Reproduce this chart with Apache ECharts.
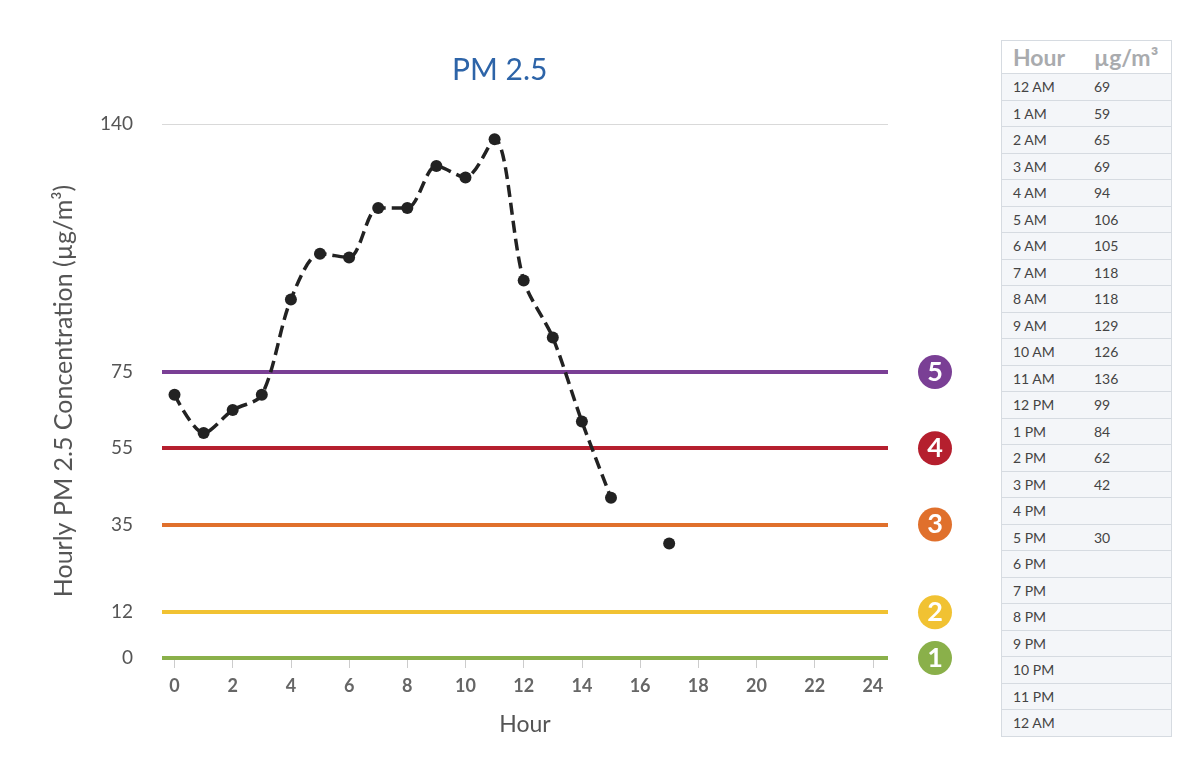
<!DOCTYPE html>
<html>
<head>
    <meta charset="utf-8">
    <script src="https://cdn.jsdelivr.net/npm/echarts@6/dist/echarts.min.js"></script>
    <title>PM 2.5</title>
    <style>
        html, body { margin: 0; padding: 0; background: #fff; font-family: Lato, sans-serif; }
        #main { position: absolute; left: 0; top: 0; width: 990px; height: 769px; }
        #tbl { position: absolute; left: 1001px; top: 40px; width: 171px; border-collapse: collapse;
               border: 1px solid #d6dbe1; font-family: Lato, sans-serif; }
        #tbl th { height: 32px; text-align: left; font-size: 23px; font-weight: bold; color: #a9abae;
                  padding: 0 0 0 11px; background: #fff; border-bottom: 1px solid #d6dbe1; }
        #tbl td { height: 25.5px; font-size: 14px; color: #444; padding: 0 0 0 11px;
                  background: #f4f6f9; border-bottom: 1px solid #d6dbe1; }
        #tbl td.h { width: 70px; }
    </style>
</head>
<body>
<div id="main"></div>
<table id="tbl"><thead><tr><th>Hour</th><th>µg/m³</th></tr></thead><tbody id="rows"></tbody></table>
<script>
    // hourly readings, null = no data
    var hours = [0, 1, 2, 3, 4, 5, 6, 7, 8, 9, 10, 11, 12, 13, 14, 15, 16, 17];
    var pm25 = [69, 59, 65, 69, 94, 106, 105, 118, 118, 129, 126, 136, 99, 84, 62, 42, null, 30];
    // table rows
    var hourNames = ['12 AM', '1 AM', '2 AM', '3 AM', '4 AM', '5 AM', '6 AM', '7 AM', '8 AM', '9 AM', '10 AM', '11 AM',
        '12 PM', '1 PM', '2 PM', '3 PM', '4 PM', '5 PM', '6 PM', '7 PM', '8 PM', '9 PM', '10 PM', '11 PM', '12 AM'];
    // AQI breakpoints
    var levels = [0, 12, 35, 55, 75];
    var levelColors = ['#8ab04a', '#f1c232', '#e0702c', '#b51f2e', '#7a3f95'];
    var yTicks = [0, 12, 35, 55, 75, 140];
    var xTicks = [0, 2, 4, 6, 8, 10, 12, 14, 16, 18, 20, 22, 24];

    var html = '';
    for (var i = 0; i < hourNames.length; i++) {
        var v = pm25[i];
        html += '<tr><td class="h">' + hourNames[i] + '</td><td>' + (v == null ? '' : v) + '</td></tr>';
    }
    document.getElementById('rows').innerHTML = html;

    var points = [];
    for (var i = 0; i < hours.length; i++) {
        points.push([hours[i], pm25[i] == null ? '-' : pm25[i]]);
    }

    var lines = [];
    for (var i = 0; i < levels.length; i++) {
        lines.push({
            yAxis: levels[i],
            lineStyle: { color: levelColors[i], width: 4, type: 'solid' },
            label: {
                show: true, position: 'end', distance: 30,
                formatter: '{c|' + (i + 1) + '}',
                rich: {
                    c: {
                        width: 34, height: 34, lineHeight: 34, align: 'center', borderRadius: 19,
                        backgroundColor: levelColors[i], borderColor: 'rgba(255,255,255,0.55)', borderWidth: 2,
                        color: '#fff', fontSize: 27, fontWeight: 'bold', fontFamily: 'Lato'
                    }
                }
            }
        });
    }

    var chart = echarts.init(document.getElementById('main'));
    chart.setOption({
        animation: false,
        title: {
            text: 'PM 2.5', left: 447, top: 50,
            textStyle: { color: '#2d64a8', fontSize: 30, fontWeight: 'normal', fontFamily: 'Lato' }
        },
        grid: { left: 162, right: 102, top: 124, bottom: 111 },
        xAxis: {
            type: 'value', min: -0.43, max: 24.52,
            name: 'Hour', nameLocation: 'middle', nameGap: 55,
            nameTextStyle: { color: '#555', fontSize: 23, fontFamily: 'Lato' },
            axisLine: { show: false },
            axisTick: { show: true, customValues: xTicks, length: 10, lineStyle: { color: '#ccc' } },
            axisLabel: { customValues: xTicks, color: '#666', fontSize: 18, fontWeight: 'bold', margin: 19, fontFamily: 'Lato' },
            splitLine: { show: false }
        },
        yAxis: {
            type: 'value', min: 0, max: 140,
            name: 'Hourly PM 2.5 Concentration (µg/m³)', nameLocation: 'middle', nameGap: 86,
            nameTextStyle: { color: '#555', fontSize: 25, fontFamily: 'Lato' },
            axisLine: { show: false },
            axisTick: { show: false },
            axisLabel: { customValues: yTicks, color: '#555', fontSize: 19, margin: 29, fontFamily: 'Lato' },
            splitLine: { show: false }
        },
        series: [{
            type: 'line',
            data: points,
            smooth: 0.3,
            connectNulls: false,
            symbol: 'circle', symbolSize: 12, showAllSymbol: true,
            itemStyle: { color: '#222' },
            lineStyle: { color: '#222', width: 3.5, type: [12, 6] },
            z: 5,
            markLine: {
                silent: true, symbol: 'none', animation: false,
                data: lines.concat([{ yAxis: 140, lineStyle: { color: '#d9d9d9', width: 1, type: 'solid' }, label: { show: false } }])
            }
        }]
    });
</script>
</body>
</html>
